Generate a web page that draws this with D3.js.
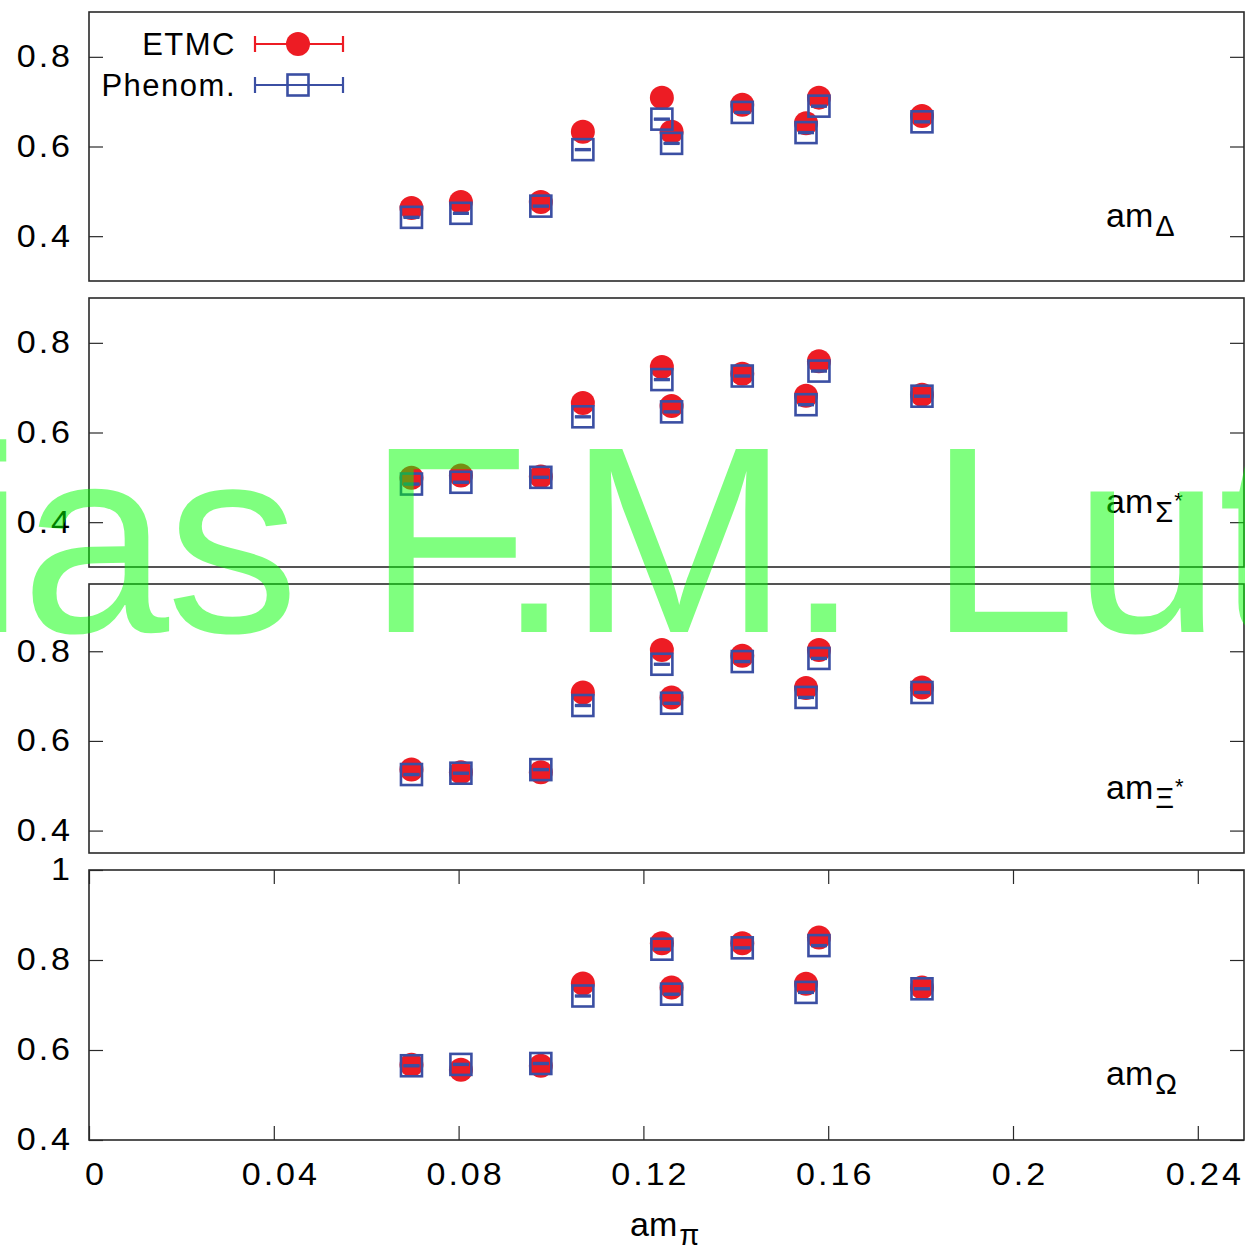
<!DOCTYPE html>
<html>
<head>
<meta charset="utf-8">
<script src="https://cdn.jsdelivr.net/npm/d3@7"></script>
<style>
  html, body { margin: 0; padding: 0; background: #fff; }
  svg { display: block; font-family: "Liberation Sans", Arial, Helvetica, sans-serif; }
</style>
</head>
<body>
<script>
// Pion mass in lattice units for each ensemble
const amPi = [0.0698, 0.0805, 0.0978, 0.1069, 0.1240, 0.1261, 0.1414, 0.1552, 0.1580, 0.1803];

// Decuplet baryon masses (lattice units): ETMC lattice results and phenomenological fit
const etmcDelta  = [0.463, 0.476, 0.476, 0.633, 0.709, 0.633, 0.693, 0.652, 0.709, 0.668];
const phenDelta  = [0.442, 0.451, 0.467, 0.593, 0.661, 0.607, 0.676, 0.631, 0.690, 0.655];
const etmcSigma  = [0.499, 0.504, 0.502, 0.666, 0.746, 0.659, 0.731, 0.682, 0.759, 0.684];
const phenSigma  = [0.485, 0.489, 0.500, 0.635, 0.718, 0.646, 0.726, 0.662, 0.737, 0.681];
const etmcXi     = [0.536, 0.530, 0.530, 0.708, 0.803, 0.697, 0.790, 0.718, 0.803, 0.719];
const phenXi     = [0.525, 0.528, 0.536, 0.679, 0.771, 0.684, 0.777, 0.697, 0.784, 0.708];
const etmcOmega  = [0.567, 0.556, 0.565, 0.748, 0.837, 0.739, 0.837, 0.747, 0.850, 0.739];
const phenOmega  = [0.565, 0.568, 0.570, 0.720, 0.824, 0.724, 0.827, 0.728, 0.832, 0.736];

// Statistical uncertainties (tiny on this scale)
const etmcErr = [0.001, 0.001, 0.001, 0.001, 0.001, 0.001, 0.001, 0.001, 0.001, 0.001];
const phenErr = [0.001, 0.001, 0.001, 0.001, 0.001, 0.001, 0.001, 0.001, 0.001, 0.001];

// Axis ticks
const xTicks = [0, 0.04, 0.08, 0.12, 0.16, 0.2, 0.24];
const xTickLabels = ["0", "0.04", "0.08", "0.12", "0.16", "0.2", "0.24"];
const yTicksLow = [0.4, 0.6, 0.8];
const yTicksOmega = [0.4, 0.6, 0.8, 1];

const seriesNames = ["ETMC", "Phenom."];
const watermark = "Matthias F.M. Lutz";

const W = 1245, H = 1248;
const RED = "#ed1c24", BLUE = "#3b4fa3", FRAME = "#2a2a2a";
const left = 89, right = 1244;
const FS = 31;
const SX = 1.1;   // slightly widened tick-label glyphs

const svg = d3.select("body").append("svg").attr("width", W).attr("height", H);

const x = d3.scaleLinear().domain([0, 0.25]).range([left, right]);

const panels = [
  { sym: "Δ", star: false, etmc: etmcDelta, phen: phenDelta, top: 12,  bottom: 281,  domain: [0.3, 0.9],  ticks: yTicksLow },
  { sym: "Σ", star: true,  etmc: etmcSigma, phen: phenSigma, top: 298, bottom: 567,  domain: [0.3, 0.9],  ticks: yTicksLow },
  { sym: "Ξ", star: true,  etmc: etmcXi,    phen: phenXi,    top: 584, bottom: 853,  domain: [0.35, 0.95], ticks: yTicksLow },
  { sym: "Ω", star: false, etmc: etmcOmega, phen: phenOmega, top: 870, bottom: 1140, domain: [0.4, 1.0],  ticks: yTicksOmega }
];

function styleAxis(g) {
  g.select(".domain").remove();
  g.selectAll(".tick line").attr("stroke", FRAME).attr("stroke-width", 1.2);
  g.selectAll(".tick text")
    .attr("fill", "#000")
    .attr("font-size", FS)
    .attr("font-family", "Liberation Sans, Arial, sans-serif")
    .attr("transform", `scale(${SX},1)`)
    .style("letter-spacing", "2.7px");
}

panels.forEach((p, pi) => {
  const y = d3.scaleLinear().domain(p.domain).range([p.bottom, p.top]);
  const g = svg.append("g");

  // left axis with labels, ticks pointing inward
  g.append("g")
    .attr("transform", `translate(${left},0)`)
    .call(d3.axisLeft(y).tickValues(p.ticks).tickSizeInner(-14).tickSizeOuter(0)
      .tickFormat(d3.format("~g")))
    .call(styleAxis)
    .selectAll(".tick text").attr("x", -16 / SX);

  // right axis, ticks only
  g.append("g")
    .attr("transform", `translate(${right},0)`)
    .call(d3.axisRight(y).tickValues(p.ticks).tickSizeInner(-14).tickSizeOuter(0).tickFormat(""))
    .call(styleAxis);

  if (pi === panels.length - 1) {
    g.append("g")
      .attr("transform", `translate(0,${p.bottom})`)
      .call(d3.axisBottom(x).tickValues(xTicks).tickSizeInner(-14).tickSizeOuter(0)
        .tickPadding(23).tickFormat((d, i) => xTickLabels[i]))
      .call(styleAxis)
      .selectAll(".tick text").attr("dx", 6.5 / SX);
    g.append("g")
      .attr("transform", `translate(0,${p.top})`)
      .call(d3.axisTop(x).tickValues(xTicks).tickSizeInner(-14).tickSizeOuter(0).tickFormat(""))
      .call(styleAxis);
  }

  // frame
  g.append("rect")
    .attr("x", left).attr("y", p.top)
    .attr("width", right - left).attr("height", p.bottom - p.top)
    .attr("fill", "none").attr("stroke", FRAME).attr("stroke-width", 1.6);

  const idx = d3.range(amPi.length);

  // ETMC: error caps and filled circles
  const ge = g.append("g");
  idx.forEach(i => {
    [p.etmc[i] - etmcErr[i], p.etmc[i] + etmcErr[i]].forEach(v => {
      ge.append("line")
        .attr("x1", x(amPi[i]) - 8).attr("x2", x(amPi[i]) + 8)
        .attr("y1", y(v)).attr("y2", y(v))
        .attr("stroke", RED).attr("stroke-width", 2.5);
    });
  });
  ge.selectAll("circle").data(idx).join("circle")
    .attr("cx", i => x(amPi[i])).attr("cy", i => y(p.etmc[i]))
    .attr("r", 12).attr("fill", RED);

  // Phenomenological fit: error caps and open squares
  const gp = g.append("g");
  idx.forEach(i => {
    [p.phen[i] - phenErr[i], p.phen[i] + phenErr[i]].forEach(v => {
      gp.append("line")
        .attr("x1", x(amPi[i]) - 8).attr("x2", x(amPi[i]) + 8)
        .attr("y1", y(v)).attr("y2", y(v))
        .attr("stroke", BLUE).attr("stroke-width", 2.5);
    });
  });
  gp.selectAll("rect").data(idx).join("rect")
    .attr("x", i => x(amPi[i]) - 10.5).attr("y", i => y(p.phen[i]) - 10.5)
    .attr("width", 21).attr("height", 21)
    .attr("fill", "none").attr("stroke", BLUE).attr("stroke-width", 2.6);

  // panel label am_X (with * for the strange excited states)
  const t = g.append("text")
    .attr("x", 1106).attr("y", p.top + 215)
    .attr("font-size", 34).attr("fill", "#000");
  t.append("tspan").text("am");
  t.append("tspan").attr("font-size", 29).attr("dx", 2).attr("dy", 9).text(p.sym);
  if (p.star) t.append("tspan").attr("font-size", 22).attr("dx", 1).attr("dy", -14).text("*");
});

// x-axis title
const xt = svg.append("text")
  .attr("x", 630).attr("y", 1236)
  .attr("font-size", 34).attr("fill", "#000");
xt.append("tspan").text("am");
xt.append("tspan").attr("font-size", 29).attr("dx", 2).attr("dy", 9).text("π");

// legend
const legend = svg.append("g");
const legendRows = [
  { name: seriesNames[0], y: 44, color: RED, marker: "circle" },
  { name: seriesNames[1], y: 85, color: BLUE, marker: "square" }
];
legendRows.forEach(r => {
  legend.append("text")
    .attr("x", 236).attr("y", r.y).attr("dy", "0.36em")
    .attr("text-anchor", "end").attr("font-size", 31).attr("fill", "#000")
    .style("letter-spacing", "1.5px")
    .text(r.name);
  legend.append("line").attr("x1", 255).attr("x2", 343).attr("y1", r.y).attr("y2", r.y)
    .attr("stroke", r.color).attr("stroke-width", 2.2);
  [255, 343].forEach(cx => legend.append("line")
    .attr("x1", cx).attr("x2", cx).attr("y1", r.y - 8).attr("y2", r.y + 8)
    .attr("stroke", r.color).attr("stroke-width", 2.2));
  if (r.marker === "circle") {
    legend.append("circle").attr("cx", 298).attr("cy", r.y).attr("r", 12).attr("fill", r.color);
  } else {
    legend.append("rect").attr("x", 287.5).attr("y", r.y - 10.5).attr("width", 21).attr("height", 21)
      .attr("fill", "none").attr("stroke", r.color).attr("stroke-width", 2.6);
  }
});

// author watermark across the figure
const wm = svg.append("text")
  .attr("x", 0).attr("y", 632)
  .attr("font-size", 266)
  .style("letter-spacing", "-3px")
  .attr("fill", "#00ff00").attr("fill-opacity", 0.5)
  .text(watermark);
const fIndex = watermark.indexOf("F");
const fPos = wm.node().getStartPositionOfChar(fIndex).x;
wm.attr("x", 367 - fPos);
</script>
</body>
</html>
